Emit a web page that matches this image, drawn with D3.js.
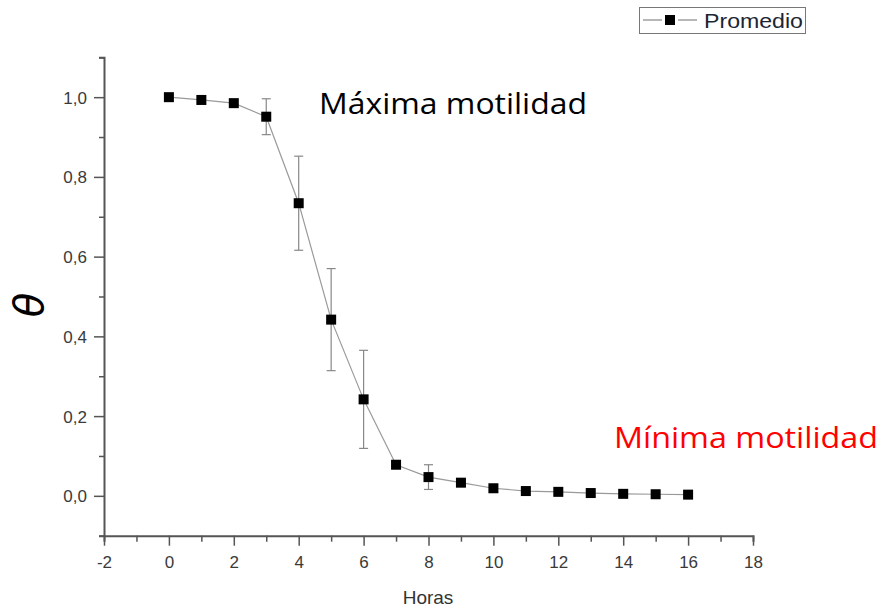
<!DOCTYPE html>
<html>
<head>
<meta charset="utf-8">
<script src="https://cdn.jsdelivr.net/npm/d3@7"></script>
<style>
  body { margin: 0; background: #fff; }
  svg { display: block; }
</style>
</head>
<body>
<svg id="chart" width="883" height="609"></svg>
<script>
// hours and mean theta
var horas = [0, 1, 2, 3, 4, 5, 6, 7, 8, 9, 10, 11, 12, 13, 14, 15, 16];
var promedio = [1.0, 0.993, 0.985, 0.951, 0.734, 0.442, 0.242, 0.078, 0.047, 0.033, 0.019, 0.012, 0.01, 0.007, 0.005, 0.004, 0.003];
// error (+/-), 0 where no bar is drawn
var error = [0, 0, 0, 0.045, 0.118, 0.128, 0.123, 0, 0.031, 0, 0, 0, 0, 0, 0, 0, 0];

var yTicks = [0, 0.2, 0.4, 0.6, 0.8, 1.0];

var svg = d3.select('#chart');

var x = d3.scaleLinear().domain([-2, 18]).range([104, 753]);
var y = d3.scaleLinear().domain([-0.1, 1.1]).range([535.7, 57.3]);

var fmt = function(d) { return d3.format('.1f')(d).replace('.', ','); };

// x axis
var xAxis = svg.append('g').attr('transform', 'translate(0,' + y(-0.1) + ')');
xAxis.call(d3.axisBottom(x).tickValues(d3.range(-2, 18.5, 1)).tickSize(6).tickFormat(''));
xAxis.selectAll('.tick line').filter(function(d) { return d % 2 === 0; }).attr('y2', 10);
xAxis.selectAll('.tick').filter(function(d) { return d % 2 === 0; })
  .append('text')
  .attr('y', 32)
  .attr('text-anchor', 'middle')
  .text(function(d) { return d; });

// y axis
var yAxis = svg.append('g').attr('transform', 'translate(' + x(-2) + ',0)');
yAxis.call(d3.axisLeft(y).tickValues(d3.range(-0.1, 1.15, 0.1).map(function(v) { return +v.toFixed(1); })).tickSize(5).tickFormat(''));
yAxis.selectAll('.tick line').filter(function(d) { return yTicks.indexOf(d) >= 0; }).attr('x2', -10);
yAxis.selectAll('.tick').filter(function(d) { return yTicks.indexOf(d) >= 0; })
  .append('text')
  .attr('x', -17)
  .attr('dy', '0.35em')
  .attr('text-anchor', 'end')
  .text(fmt);

svg.selectAll('.domain').attr('stroke', '#555').attr('stroke-width', 2);
svg.selectAll('.tick line').attr('stroke', '#555').attr('stroke-width', 1.5);
svg.selectAll('.tick text')
  .attr('fill', '#3a3a3a')
  .attr('font-size', 17)
  .style('font-family', 'Liberation Sans, Arial, sans-serif')
  .style('font-size', '17px');

// axis titles
svg.append('text')
  .attr('x', 428).attr('y', 604)
  .attr('text-anchor', 'middle')
  .attr('fill', '#333')
  .style('font-family', 'Liberation Sans, Arial, sans-serif')
  .style('font-size', '19px')
  .text('Horas');

svg.append('text')
  .attr('transform', 'translate(43,305) rotate(-90)')
  .attr('text-anchor', 'middle')
  .attr('fill', '#000')
  .style('font-family', 'DejaVu Sans, sans-serif')
  .style('font-style', 'italic')
  .style('font-size', '40px')
  .text('θ');

var pts = horas.map(function(h, i) { return {h: h, v: promedio[i], e: error[i]}; });

// connecting line
svg.append('path')
  .datum(pts)
  .attr('fill', 'none')
  .attr('stroke', '#9a9a9a')
  .attr('stroke-width', 1.2)
  .attr('d', d3.line().x(function(d) { return x(d.h); }).y(function(d) { return y(d.v); }));

// error bars
var eb = svg.append('g').attr('stroke', '#888').attr('stroke-width', 1.2)
  .selectAll('g').data(pts.filter(function(d) { return d.e > 0; })).join('g');
eb.append('line')
  .attr('x1', function(d) { return x(d.h); }).attr('x2', function(d) { return x(d.h); })
  .attr('y1', function(d) { return y(d.v + d.e); }).attr('y2', function(d) { return y(d.v - d.e); });
eb.append('line')
  .attr('x1', function(d) { return x(d.h) - 4.5; }).attr('x2', function(d) { return x(d.h) + 4.5; })
  .attr('y1', function(d) { return y(d.v + d.e); }).attr('y2', function(d) { return y(d.v + d.e); });
eb.append('line')
  .attr('x1', function(d) { return x(d.h) - 4.5; }).attr('x2', function(d) { return x(d.h) + 4.5; })
  .attr('y1', function(d) { return y(d.v - d.e); }).attr('y2', function(d) { return y(d.v - d.e); });

// square markers
svg.append('g').selectAll('rect').data(pts).join('rect')
  .attr('x', function(d) { return x(d.h) - 5; })
  .attr('y', function(d) { return y(d.v) - 5; })
  .attr('width', 10).attr('height', 10)
  .attr('fill', '#000');

// annotations
svg.append('text')
  .attr('x', 319).attr('y', 114)
  .attr('fill', '#000')
  .attr('textLength', 268).attr('lengthAdjust', 'spacingAndGlyphs')
  .style('font-family', 'Open Sans, sans-serif')
  .style('font-size', '29px')
  .text('Máxima motilidad');

svg.append('text')
  .attr('x', 614).attr('y', 448)
  .attr('fill', '#ff0000')
  .attr('textLength', 264).attr('lengthAdjust', 'spacingAndGlyphs')
  .style('font-family', 'Open Sans, sans-serif')
  .style('font-size', '29px')
  .text('Mínima motilidad');

// legend
var lg = svg.append('g');
lg.append('rect')
  .attr('x', 639.5).attr('y', 7.5).attr('width', 166).attr('height', 26)
  .attr('fill', '#fff').attr('stroke', '#777').attr('stroke-width', 1);
lg.append('line')
  .attr('x1', 643).attr('x2', 662).attr('y1', 20).attr('y2', 20)
  .attr('stroke', '#888').attr('stroke-width', 1.2);
lg.append('line')
  .attr('x1', 678).attr('x2', 697).attr('y1', 20).attr('y2', 20)
  .attr('stroke', '#888').attr('stroke-width', 1.2);
lg.append('rect')
  .attr('x', 665).attr('y', 15).attr('width', 10).attr('height', 10).attr('fill', '#000');
lg.append('text')
  .attr('x', 704).attr('y', 28)
  .attr('fill', '#1c2633')
  .attr('textLength', 99).attr('lengthAdjust', 'spacingAndGlyphs')
  .style('font-family', 'Liberation Sans, Arial, sans-serif')
  .style('font-size', '21px')
  .text('Promedio');
</script>
</body>
</html>
